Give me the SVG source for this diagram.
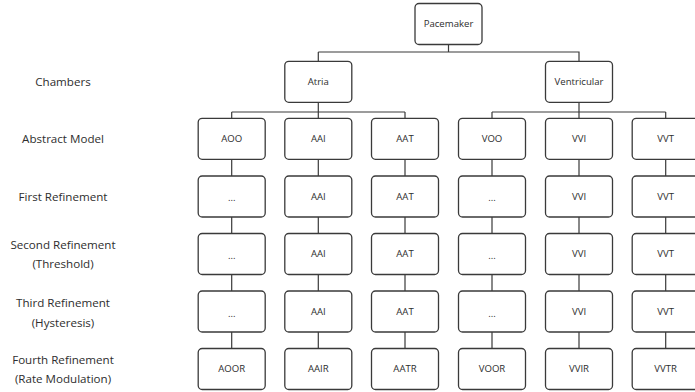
<svg xmlns="http://www.w3.org/2000/svg" width="695" height="392" viewBox="0 0 695 392">
<style>
.box{fill:#fff;stroke:#3a3a3a;stroke-width:1.3}
.t{font-family:"Open Sans","DejaVu Sans",sans-serif;font-size:9.6px;fill:#2e2e2e;text-anchor:middle;dominant-baseline:central}
.l{font-family:"Open Sans","Liberation Sans",sans-serif;font-size:11.6px;fill:#2e2e2e;text-anchor:middle;dominant-baseline:central}
.c{fill:none;stroke:#3a3a3a;stroke-width:1.2}
</style>
<rect width="695" height="392" fill="#fff"/>
<g id="labels">
<text class="l" x="63" y="81">Chambers</text>
<text class="l" x="63" y="138">Abstract Model</text>
<text class="l" x="63" y="196">First Refinement</text>
<text class="l" x="63" y="244">Second Refinement</text>
<text class="l" x="63" y="263.5">(Threshold)</text>
<text class="l" x="63" y="302">Third Refinement</text>
<text class="l" x="63" y="322">(Hysteresis)</text>
<text class="l" x="63" y="359">Fourth Refinement</text>
<text class="l" x="63" y="378.5">(Rate Modulation)</text>
</g>
<g id="connectors">
<path class="c" d="M448.5,44V52M318.3,52H579V61M318.3,52V61"/>
<path class="c" d="M318.3,102V112M231.7,112H405M231.7,112V118M405,112V118M318.3,112V118"/>
<path class="c" d="M579,102V112M492,112H665.7M492,112V118M665.7,112V118M579,112V118"/>
<path class="c" d="M231.7,159V176M231.7,217V233.5M231.7,274.5V291M231.7,332V348.5"/>
<path class="c" d="M318.3,159V176M318.3,217V233.5M318.3,274.5V291M318.3,332V348.5"/>
<path class="c" d="M405,159V176M405,217V233.5M405,274.5V291M405,332V348.5"/>
<path class="c" d="M492,159V176M492,217V233.5M492,274.5V291M492,332V348.5"/>
<path class="c" d="M579,159V176M579,217V233.5M579,274.5V291M579,332V348.5"/>
<path class="c" d="M665.7,159V176M665.7,217V233.5M665.7,274.5V291M665.7,332V348.5"/>
</g>
<g id="pacemaker"><rect class="box" x="415" y="3.5" width="67" height="41" rx="4"/><text class="t" x="448.5" y="23.5">Pacemaker</text></g>
<g id="atria"><rect class="box" x="284.8" y="61.3" width="67" height="41" rx="4"/><text class="t" x="318.3" y="81">Atria</text></g>
<g id="ventricular"><rect class="box" x="545.5" y="61.3" width="67" height="41" rx="4"/><text class="t" x="579" y="81">Ventricular</text></g>

<g id="aoo"><rect class="box" x="198.2" y="118.3" width="67" height="41" rx="4"/><text class="t" x="231.7" y="138.5">AOO</text></g>
<g id="aai"><rect class="box" x="284.8" y="118.3" width="67" height="41" rx="4"/><text class="t" x="318.3" y="138.5">AAI</text></g>
<g id="aat"><rect class="box" x="371.5" y="118.3" width="67" height="41" rx="4"/><text class="t" x="405" y="138.5">AAT</text></g>
<g id="voo"><rect class="box" x="458.5" y="118.3" width="67" height="41" rx="4"/><text class="t" x="492" y="138.5">VOO</text></g>
<g id="vvi"><rect class="box" x="545.5" y="118.3" width="67" height="41" rx="4"/><text class="t" x="579" y="138.5">VVI</text></g>
<g id="vvt"><rect class="box" x="632.2" y="118.3" width="67" height="41" rx="4"/><text class="t" x="665.7" y="138.5">VVT</text></g>

<g id="r1c1"><rect class="box" x="198.2" y="176" width="67" height="41" rx="4"/><text class="t" x="231.7" y="197">...</text></g>
<g id="r1c2"><rect class="box" x="284.8" y="176" width="67" height="41" rx="4"/><text class="t" x="318.3" y="196">AAI</text></g>
<g id="r1c3"><rect class="box" x="371.5" y="176" width="67" height="41" rx="4"/><text class="t" x="405" y="196">AAT</text></g>
<g id="r1c4"><rect class="box" x="458.5" y="176" width="67" height="41" rx="4"/><text class="t" x="492" y="197">...</text></g>
<g id="r1c5"><rect class="box" x="545.5" y="176" width="67" height="41" rx="4"/><text class="t" x="579" y="196">VVI</text></g>
<g id="r1c6"><rect class="box" x="632.2" y="176" width="67" height="41" rx="4"/><text class="t" x="665.7" y="196">VVT</text></g>

<g id="r2c1"><rect class="box" x="198.2" y="233.5" width="67" height="41" rx="4"/><text class="t" x="231.7" y="255">...</text></g>
<g id="r2c2"><rect class="box" x="284.8" y="233.5" width="67" height="41" rx="4"/><text class="t" x="318.3" y="253.5">AAI</text></g>
<g id="r2c3"><rect class="box" x="371.5" y="233.5" width="67" height="41" rx="4"/><text class="t" x="405" y="253.5">AAT</text></g>
<g id="r2c4"><rect class="box" x="458.5" y="233.5" width="67" height="41" rx="4"/><text class="t" x="492" y="255">...</text></g>
<g id="r2c5"><rect class="box" x="545.5" y="233.5" width="67" height="41" rx="4"/><text class="t" x="579" y="253.5">VVI</text></g>
<g id="r2c6"><rect class="box" x="632.2" y="233.5" width="67" height="41" rx="4"/><text class="t" x="665.7" y="253.5">VVT</text></g>

<g id="r3c1"><rect class="box" x="198.2" y="291" width="67" height="41" rx="4"/><text class="t" x="231.7" y="313">...</text></g>
<g id="r3c2"><rect class="box" x="284.8" y="291" width="67" height="41" rx="4"/><text class="t" x="318.3" y="311.5">AAI</text></g>
<g id="r3c3"><rect class="box" x="371.5" y="291" width="67" height="41" rx="4"/><text class="t" x="405" y="311.5">AAT</text></g>
<g id="r3c4"><rect class="box" x="458.5" y="291" width="67" height="41" rx="4"/><text class="t" x="492" y="313">...</text></g>
<g id="r3c5"><rect class="box" x="545.5" y="291" width="67" height="41" rx="4"/><text class="t" x="579" y="311.5">VVI</text></g>
<g id="r3c6"><rect class="box" x="632.2" y="291" width="67" height="41" rx="4"/><text class="t" x="665.7" y="311.5">VVT</text></g>

<g id="aoor"><rect class="box" x="198.2" y="348.5" width="67" height="41" rx="4"/><text class="t" x="231.7" y="368.5">AOOR</text></g>
<g id="aair"><rect class="box" x="284.8" y="348.5" width="67" height="41" rx="4"/><text class="t" x="318.3" y="368.5">AAIR</text></g>
<g id="aatr"><rect class="box" x="371.5" y="348.5" width="67" height="41" rx="4"/><text class="t" x="405" y="368.5">AATR</text></g>
<g id="voor"><rect class="box" x="458.5" y="348.5" width="67" height="41" rx="4"/><text class="t" x="492" y="368.5">VOOR</text></g>
<g id="vvir"><rect class="box" x="545.5" y="348.5" width="67" height="41" rx="4"/><text class="t" x="579" y="368.5">VVIR</text></g>
<g id="vvtr"><rect class="box" x="632.2" y="348.5" width="67" height="41" rx="4"/><text class="t" x="665.7" y="368.5">VVTR</text></g>
</svg>
